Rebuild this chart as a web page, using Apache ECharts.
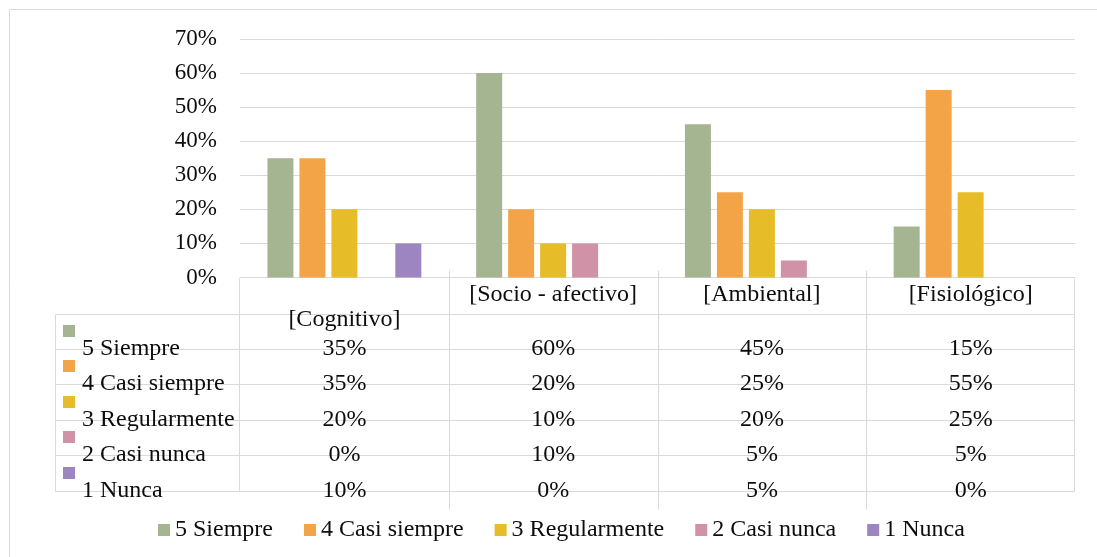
<!DOCTYPE html>
<html>
<head>
<meta charset="utf-8">
<script src="https://cdn.jsdelivr.net/npm/echarts@6/dist/echarts.min.js"></script>
<style>
html,body{margin:0;padding:0;background:#fff;}
#chart{width:1097px;height:557px;}
</style>
</head>
<body>
<div id="chart"></div>
<script>
// ---- data ----
const categories = ['[Cognitivo]', '[Socio - afectivo]', '[Ambiental]', '[Fisiológico]'];
const seriesNames = ['5 Siempre', '4 Casi siempre', '3 Regularmente', '2 Casi nunca', '1 Nunca'];
// bar heights as drawn (%)
const siempre = [35, 60, 45, 15];
const casiSiempre = [35, 20, 25, 55];
const regularmente = [20, 10, 20, 25];
const casiNunca = [0, 10, 5, 0];
const nunca = [10, 0, 0, 0];
// values printed in the data table (%)
const tblSiempre = [35, 60, 45, 15];
const tblCasiSiempre = [35, 20, 25, 55];
const tblRegularmente = [20, 10, 20, 25];
const tblCasiNunca = [0, 10, 5, 5];
const tblNunca = [10, 0, 5, 0];
const yTicks = [0, 10, 20, 30, 40, 50, 60, 70];

// ---- styling ----
const colors = ['#A5B592', '#F3A447', '#E7BC29', '#D092A7', '#9C85C0'];
const FONT = 'Liberation Serif';
const FS = 24;
const FSY = 23;
const TXT = '#0d0d0d';
const LINE = '#d9d9d9';

const chart = echarts.init(document.getElementById('chart'), null, {renderer: 'canvas'});
const barData = [siempre, casiSiempre, regularmente, casiNunca, nunca];
const tableData = [tblSiempre, tblCasiSiempre, tblRegularmente, tblCasiNunca, tblNunca];

const option = {
  animation: false,
  backgroundColor: '#fff',
  textStyle: {fontFamily: FONT},
  grid: {left: 240, right: 22, top: 39, bottom: 279.5, containLabel: false},
  legend: {
    data: seriesNames,
    left: 153, top: 513,
    icon: 'rect', itemWidth: 12, itemHeight: 12, itemGap: 31,
    textStyle: {fontFamily: FONT, fontSize: FS, color: TXT}
  },
  xAxis: {
    type: 'category', data: categories,
    axisLine: {show: true, lineStyle: {color: LINE, width: 1}},
    axisTick: {show: false},
    axisLabel: {show: false},
    splitLine: {show: false}
  },
  yAxis: {
    type: 'value', min: yTicks[0], max: yTicks[yTicks.length - 1], interval: 10,
    axisLine: {show: false}, axisTick: {show: false},
    axisLabel: {formatter: v => v + '%', fontFamily: FONT, fontSize: FSY, color: TXT, margin: 23},
    splitLine: {lineStyle: {color: LINE, width: 1}}
  },
  series: seriesNames.map((n, i) => ({
    name: n, type: 'bar', data: barData[i],
    barWidth: 26, barGap: '23%',
    itemStyle: {color: colors[i]}
  }))
};
chart.setOption(option);

// ---- data table drawn from axis positions ----
const cx = i => chart.convertToPixel({xAxisIndex: 0}, i);
const band = cx(1) - cx(0);
const y0 = Math.round(chart.convertToPixel({yAxisIndex: 0}, 0)) + 0.5;
const leftX = cx(0) - band / 2;
const rightX = cx(categories.length - 1) + band / 2;
const colX = 55.5;
const headerH = 35;
const rowH = 35.4;
const rowLines = [];
for (let k = 0; k <= 5; k++) rowLines.push(Math.round(y0 + headerH + k * rowH) + 0.5);

const els = [];
const ln = (x1, y1, x2, y2) => els.push({type: 'line', silent: true, shape: {x1, y1, x2, y2}, style: {stroke: LINE, lineWidth: 1}});
const tx = (text, x, y, align) => els.push({type: 'text', silent: true, style: {
  text, x, y, font: FS + 'px "' + FONT + '"', fill: TXT,
  align: align, textAlign: align, verticalAlign: 'middle', textVerticalAlign: 'middle'
}});

// outer border (top & left)
ln(9.5, 9.5, 1097, 9.5);
ln(9.5, 9.5, 9.5, 557);
// table frame
ln(Math.round(leftX) - 0.5, y0, Math.round(leftX) - 0.5, rowLines[5]);
ln(Math.round(rightX) - 0.5, y0, Math.round(rightX) - 0.5, rowLines[5]);
for (let i = 1; i < categories.length; i++) {
  const x = Math.round(cx(i) - band / 2) + 0.5;
  ln(x, y0 - 8, x, rowLines[5] + 18);
}
rowLines.forEach(y => ln(colX, y, Math.round(rightX) - 0.5, y));
ln(colX, rowLines[0], colX, rowLines[5]);

// category headers
categories.forEach((c, i) => {
  const y = i === 0 ? y0 + 41 : y0 + 16;
  tx(c, cx(i), y, 'center');
});
// rows
seriesNames.forEach((n, k) => {
  const yc = rowLines[k + 1] - 1;
  els.push({type: 'rect', silent: true, shape: {x: 63, y: Math.round(yc - 18 - 6), width: 12, height: 12}, style: {fill: colors[k]}});
  tx(n, 82, yc, 'left');
  tableData[k].forEach((v, i) => tx(v + '%', cx(i), yc, 'center'));
});

chart.setOption({graphic: {elements: els}});
</script>
</body>
</html>
